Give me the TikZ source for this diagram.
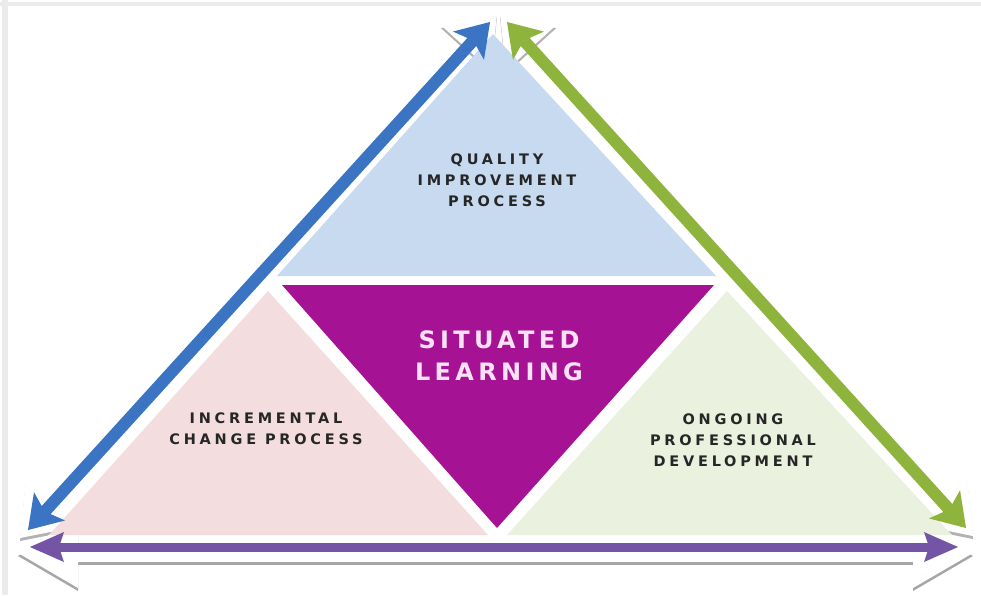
\documentclass[tikz,border=0pt]{standalone}
\usepackage{fontspec}
\setmainfont{DejaVu Sans}
\newfontfamily\sidefont[LetterSpace=26]{DejaVu Sans}
\newfontfamily\hubfont[LetterSpace=18]{DejaVu Sans}
\usepackage{xcolor}
\usetikzlibrary{arrows.meta}

\definecolor{topblue}{RGB}{200,218,240}
\definecolor{leftpink}{RGB}{243,221,223}
\definecolor{rightgreen}{RGB}{234,241,223}
\definecolor{hubmagenta}{RGB}{166,18,148}
\definecolor{arrblue}{RGB}{58,116,194}
\definecolor{arrgreen}{RGB}{142,180,62}
\definecolor{arrpurple}{RGB}{116,84,164}
\definecolor{hubtext}{RGB}{250,226,246}

\tikzset{
  frontTip/.tip={Stealth[length=32pt,width=42pt,inset=7pt,line width=0pt]},
  baseTip/.tip={Triangle[length=60pt,width=70pt,line width=0pt]},
  backTip/.tip={Triangle[length=46pt,width=68pt,line width=0pt]},
  flatTip/.tip={Stealth[length=34pt,width=30pt,inset=5pt,line width=0pt]}
}

\begin{document}
\begin{tikzpicture}[x=1pt, y=-1pt,
    sidelabel/.style={font=\sidefont\bfseries\fontsize{14.5}{21}\selectfont, text=black!85, align=center, inner sep=0pt},
    hublabel/.style={font=\hubfont\bfseries\fontsize{24}{32}\selectfont, text=hubtext, align=center, inner sep=0pt}]
    \useasboundingbox (0,0) rectangle (981,595);
    \fill[white] (0,0) rectangle (981,595);

    % frame edges of the picture
    \fill[black!8] (0,2) rectangle (981,6);
    \fill[black!8] (2,0) rectangle (8,595);

    % arrow end points
    \coordinate (bTop) at (490,22);
    \coordinate (bBot) at (28,530);
    \coordinate (gTop) at (507,22);
    \coordinate (gBot) at (966,528);
    \coordinate (pLeft) at (30,547);
    \coordinate (pRight) at (958,547);
    \coordinate (bTopW) at (497,14);
    \coordinate (bBotW) at (20,538);
    \coordinate (gTopW) at (500,14);
    \coordinate (gBotW) at (973,536);
    \coordinate (pLeftW) at (18,553);
    \coordinate (pRightW) at (973,553);

    % white back arrows with grey shade
    \begin{scope}[transform canvas={yshift=-3pt}]
        \draw[black!35, line width=18pt, baseTip-baseTip] (pLeftW) -- (pRightW);
        \draw[black!30, line width=4pt, backTip-backTip] (bBotW) -- (bTopW);
        \draw[black!30, line width=4pt, backTip-backTip] (gBotW) -- (gTopW);
    \end{scope}
    \draw[white, line width=18pt, baseTip-baseTip] (pLeftW) -- (pRightW);
    \draw[white, line width=4pt, backTip-backTip] (bBotW) -- (bTopW);
    \draw[white, line width=4pt, backTip-backTip] (gBotW) -- (gTopW);

    % the four triangles
    \fill[topblue] (493,34) -- (716,276) -- (277,276) -- cycle;
    \fill[hubmagenta] (282,285) -- (714,285) -- (497,528) -- cycle;
    \fill[leftpink] (268,291) -- (488,535) -- (49,535) -- cycle;
    \fill[rightgreen] (727,291) -- (952,535) -- (507,535) -- cycle;

    % coloured arrows
    \draw[arrpurple, line width=9pt, flatTip-flatTip] (pLeft) -- (pRight);
    \draw[arrblue, line width=12pt, frontTip-frontTip] (bBot) -- (bTop);
    \draw[arrgreen, line width=12pt, frontTip-frontTip] (gBot) -- (gTop);

    % labels
    \node[sidelabel] (qip) at (497,180) {QUALITY\\IMPROVEMENT\\PROCESS};
    \node[hublabel] (sl) at (499,356) {SITUATED\\LEARNING};
    \node[sidelabel] (icp) at (266,429) {INCREMENTAL\\CHANGE PROCESS};
    \node[sidelabel] (opd) at (733,440) {ONGOING\\PROFESSIONAL\\DEVELOPMENT};
\end{tikzpicture}
\end{document}
